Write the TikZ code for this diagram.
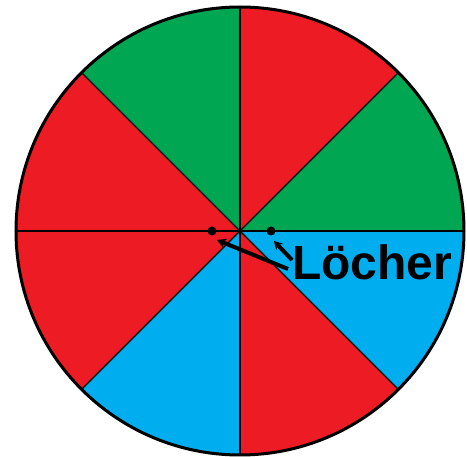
\documentclass[tikz,border=0pt]{standalone}
\usepackage{fontspec}
\setmainfont{Liberation Sans}
\usetikzlibrary{arrows.meta,calc}
\definecolor{radrot}{RGB}{237,28,36}
\definecolor{radgruen}{RGB}{0,166,81}
\definecolor{radblau}{RGB}{0,174,239}
\begin{document}
\begin{tikzpicture}[x=1pt,y=-1pt]
\useasboundingbox (0,0) rectangle (467,457);
\coordinate (M) at (240,231);
% Sektoren, im Uhrzeigersinn ab Osten
\foreach \a / \c in {0/radblau, 45/radrot, 90/radblau, 135/radrot, 180/radrot, 225/radgruen, 270/radrot, 315/radgruen}
	\fill[\c] (M) -- +(\a:224) arc[start angle=\a, end angle=\a+45, radius=224] -- cycle;
\foreach \a in {0,45,...,135}
	\draw[line width=1.2pt] ($(M)+(\a:224)$) -- ($(M)+(\a+180:224)$);
\draw[line width=3pt] (M) circle (224);
% Loecher
\coordinate (h1) at (212,231);
\coordinate (h2) at (271,231);
\foreach \h in {h1,h2}
	\fill (\h) circle (4.5);
\node[anchor=base west, inner sep=0pt, font=\fontsize{48}{48}\selectfont\bfseries] (L) at (292,280) {Löcher};
\coordinate (t1) at (217,240);
\coordinate (t2) at (274,241);
\draw[-{Stealth[length=9pt,width=10pt]}, line width=4pt] ([xshift=-4pt,yshift=11pt]L.base west) -- (t1);
\draw[-{Stealth[length=8pt,width=9pt]}, line width=4pt] ([yshift=20pt]L.base west) -- (t2);
\end{tikzpicture}
\end{document}
